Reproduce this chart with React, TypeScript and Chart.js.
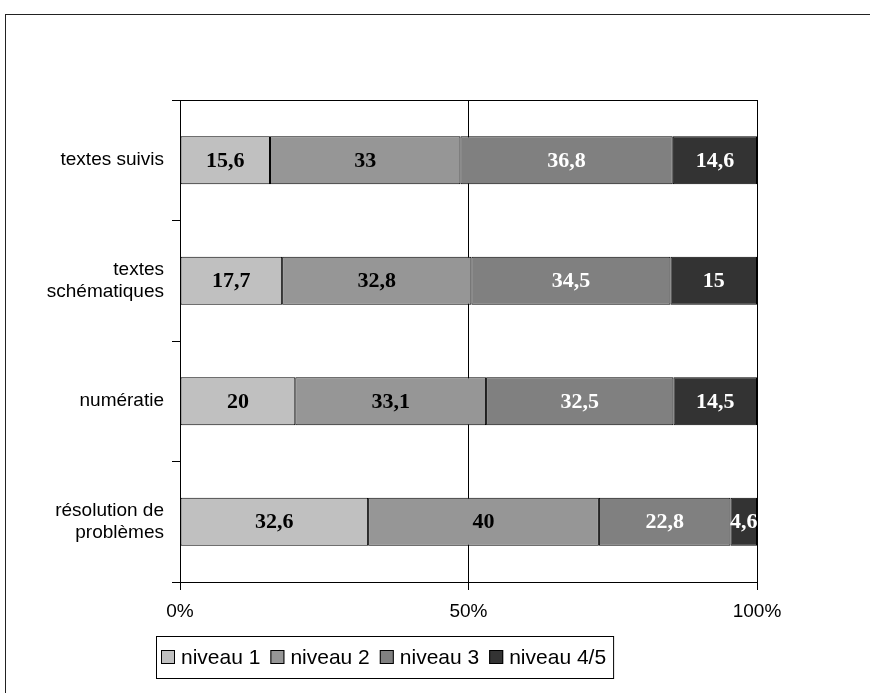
import React, { useEffect, useRef } from "react";
import { Chart, registerables } from "chart.js";

Chart.register(...registerables);

// ---- data ----
const categories: (string | string[])[] = [
  "textes suivis",
  ["textes", "schématiques"],
  "numératie",
  ["résolution de", "problèmes"],
];
const seriesNames = ["niveau 1", "niveau 2", "niveau 3", "niveau 4/5"];
const niveau1 = [15.6, 17.7, 20, 32.6];
const niveau2 = [33, 32.8, 33.1, 40];
const niveau3 = [36.8, 34.5, 32.5, 22.8];
const niveau45 = [14.6, 15, 14.5, 4.6];
const xTickValues = [0, 50, 100];

const seriesValues = [niveau1, niveau2, niveau3, niveau45];
const fillColors = ["#c0c0c0", "#969696", "#808080", "#333333"];
const labelColors = ["#000000", "#000000", "#ffffff", "#ffffff"];

const SANS = '"Liberation Sans", Arial, sans-serif';
const SERIF = '"Liberation Serif", "Times New Roman", serif';

const totals = categories.map((_, i) =>
  seriesValues.reduce((s, arr) => s + arr[i], 0)
);

const fmt = (v: number) => String(v).replace(".", ",");

const decor = {
  id: "decor",
  beforeDraw(chart: any) {
    const ctx = chart.ctx;
    ctx.save();
    ctx.strokeStyle = "#222";
    ctx.lineWidth = 1;
    ctx.strokeRect(5.5, 14.5, 2000, 2000);
    ctx.restore();
  },
  afterDatasetsDraw(chart: any) {
    const ctx = chart.ctx;
    ctx.save();
    ctx.font = `bold 22px ${SERIF}`;
    ctx.textAlign = "center";
    ctx.textBaseline = "middle";
    chart.data.datasets.forEach((ds: any, di: number) => {
      const meta = chart.getDatasetMeta(di);
      meta.data.forEach((el: any, i: number) => {
        const p = el.getProps(["x", "y", "base"], true);
        ctx.fillStyle = labelColors[di];
        ctx.fillText(fmt(seriesValues[di][i]), (p.x + p.base) / 2, p.y + 1);
      });
    });
    ctx.restore();
  },
  afterDraw(chart: any) {
    const ctx = chart.ctx;
    const area = chart.chartArea;
    ctx.save();
    // top border of plot area
    ctx.strokeStyle = "#000";
    ctx.lineWidth = 1;
    const ty = Math.round(area.top) + 0.5;
    ctx.beginPath();
    ctx.moveTo(area.left, ty);
    ctx.lineTo(area.right + 0.5, ty);
    ctx.stroke();

    // legend
    const boxLeft = 156;
    const boxTop = 636;
    const boxH = 42;
    const sw = 14;
    ctx.font = `21px ${SANS}`;
    ctx.textBaseline = "middle";
    ctx.textAlign = "left";
    let x = boxLeft + 5;
    const midY = boxTop + boxH / 2;
    chart.data.datasets.forEach((ds: any, di: number) => {
      ctx.fillStyle = ds.backgroundColor;
      ctx.fillRect(x, midY - sw / 2, sw, sw);
      ctx.strokeStyle = "#000";
      ctx.strokeRect(x + 0.5, midY - sw / 2 + 0.5, sw - 1, sw - 1);
      x += sw + 6;
      ctx.fillStyle = "#000";
      ctx.fillText(ds.label, x, midY + 1);
      x += ctx.measureText(ds.label).width + 10;
    });
    const boxW = x - 10 + 7 - boxLeft;
    ctx.strokeStyle = "#000";
    ctx.strokeRect(boxLeft + 0.5, boxTop + 0.5, boxW, boxH);
    ctx.restore();
  },
};

export default function App() {
  const ref = useRef<HTMLCanvasElement | null>(null);

  useEffect(() => {
    if (!ref.current) return;
    const chart = new Chart(ref.current, {
      type: "bar",
      data: {
        labels: categories as any,
        datasets: seriesNames.map((name, di) => ({
          label: name,
          data: seriesValues[di].map((v, i) => (v / totals[i]) * 100),
          backgroundColor: fillColors[di],
          borderColor: "#000000",
          borderWidth: 1,
          borderSkipped: false,
          barPercentage: 0.4,
          categoryPercentage: 1,
        })),
      },
      options: {
        indexAxis: "y",
        responsive: true,
        maintainAspectRatio: false,
        animation: false,
        layout: { padding: { top: 100, right: 113, left: 0, bottom: 0 } },
        plugins: {
          legend: { display: false },
          tooltip: { enabled: false },
          title: { display: false },
        },
        scales: {
          x: {
            stacked: true,
            min: 0,
            max: 100,
            afterBuildTicks: (scale: any) => {
              scale.ticks = xTickValues.map((v) => ({ value: v }));
            },
            afterFit: (scale: any) => {
              scale.height = 111;
            },
            grid: {
              color: "#000",
              lineWidth: 1,
              drawOnChartArea: true,
              drawTicks: true,
              tickLength: 8,
            },
            border: { display: true, color: "#000", width: 1 },
            ticks: {
              padding: 10,
              color: "#000",
              font: { family: SANS, size: 19 },
              maxRotation: 0,
              callback: (v: any) => `${v}%`,
            },
          },
          y: {
            stacked: true,
            afterFit: (scale: any) => {
              scale.width = 180;
            },
            grid: {
              offset: true,
              drawOnChartArea: false,
              drawTicks: true,
              tickLength: 8,
              color: "#000",
            },
            border: { display: true, color: "#000", width: 1 },
            ticks: {
              padding: 8,
              color: "#000",
              font: { family: SANS, size: 19, lineHeight: 1.2 },
            },
          },
        },
      },
      plugins: [decor],
    });
    return () => chart.destroy();
  }, []);

  return (
    <div
      style={{
        position: "absolute",
        left: 0,
        top: 0,
        width: 870,
        height: 693,
        background: "#fff",
      }}
    >
      <canvas ref={ref} />
    </div>
  );
}
